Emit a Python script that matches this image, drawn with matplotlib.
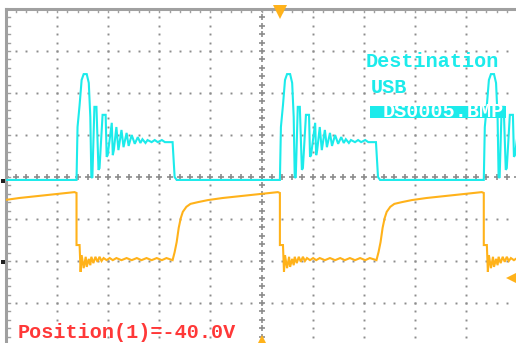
import numpy as np
import matplotlib.pyplot as plt
from matplotlib.patches import Rectangle

# screen is 10 x 8 divisions, all values below are in divisions
edges = [-3.62, 0.36, 4.35]   # ch2 rising edge / ch1 falling edge

# ch2 (cyan) pulse, time measured from its rising edge
ch2_t = [0.00, 0.02, 0.06, 0.10, 0.14, 0.20, 0.24, 0.27, 0.29, 0.31, 0.35, 0.39,
         0.43, 0.45, 0.51, 0.57, 0.59, 0.61, 0.69, 0.71, 0.73, 0.78, 0.82, 0.88,
         0.92, 0.98, 1.02, 1.08, 1.14, 1.20, 1.25, 1.29, 1.35, 1.39, 1.47, 1.53,
         1.59, 1.67, 1.73, 1.88, 1.92, 1.96]
ch2_v = [-0.07, 1.19, 1.71, 2.31, 2.45, 2.45, 2.24, 1.43, 0.00, -0.02, 1.67, 1.67,
         0.17, 0.21, 1.48, 1.48, 0.48, 0.52, 1.29, 0.52, 0.64, 1.19, 0.64, 1.12,
         0.71, 1.05, 0.74, 1.00, 0.79, 0.95, 0.81, 0.90, 0.81, 0.88, 0.83, 0.88,
         0.83, 0.88, 0.83, 0.83, 0.00, -0.07]
ch2_base = -0.07

# ch1 (orange) falling part, time from falling edge
ch1_fall_t = [0.00, 0.00, 0.06, 0.08, 0.10, 0.14, 0.18, 0.20, 0.24, 0.27, 0.29,
              0.33, 0.37, 0.41, 0.45, 0.49, 0.53, 0.59, 0.65, 0.71, 0.78, 0.88,
              0.98, 1.08, 1.18, 1.27, 1.37, 1.47, 1.57, 1.67, 1.76]
ch1_fall_v = [-0.38, -1.62, -1.62, -2.26, -1.86, -2.17, -1.90, -2.14, -1.95, -2.10,
              -1.90, -2.05, -1.90, -2.02, -1.90, -2.00, -1.93, -1.98, -1.93, -1.98,
              -1.93, -1.98, -1.93, -1.98, -1.93, -1.98, -1.93, -1.98, -1.93, -1.98,
              -1.93]
# ch1 rising part, time from rising edge (rise happens 2.10 div before next fall)
ch1_rise_t = [0.00, 0.04, 0.08, 0.12, 0.16, 0.20, 0.27, 0.35, 0.49, 0.69, 0.98,
              1.37, 1.76, 2.06]
ch1_rise_v = [-1.98, -1.79, -1.55, -1.21, -0.98, -0.83, -0.71, -0.64, -0.60,
              -0.55, -0.50, -0.45, -0.40, -0.36]
ch1_high_len = 2.10

CYAN = '#1CEBEB'
ORANGE = '#FFB21A'
GRID = '#8C8C8C'

# build traces
t2, v2 = [-5.5], [ch2_base]
for e in edges:
    t2 += [e + t for t in ch2_t]
    v2 += ch2_v
t1, v1 = [], []
for e in edges:
    t1 += [e - ch1_high_len + t for t in ch1_rise_t]
    v1 += ch1_rise_v
    t1 += [e + t for t in ch1_fall_t]
    v1 += ch1_fall_v

fig = plt.figure(figsize=(5.16, 3.43), dpi=100)
ax = fig.add_axes([6 / 516, -2 / 343, 511 / 516, 336 / 343])
ax.set_xlim(-5, 5)
ax.set_ylim(-4, 4)
ax.axis('off')

# dotted graticule
fine_y = np.arange(-4, 4.01, 0.2)
fine_x = np.arange(-5, 5.01, 0.2)
for gx in range(-4, 5):
    if gx == 0:
        continue
    ax.plot(np.full_like(fine_y, gx), fine_y, ls='none', marker='s', ms=1.4,
            mew=0, color=GRID, zorder=1)
for gy in range(-3, 4):
    if gy == 0:
        continue
    ax.plot(fine_x, np.full_like(fine_x, gy), ls='none', marker='s', ms=1.4,
            mew=0, color=GRID, zorder=1)
# centre axes with crosses
ax.plot(np.zeros_like(fine_y), fine_y, ls='none', marker='+', ms=5, mew=1.2,
        color=GRID, zorder=1)
ax.plot(fine_x, np.zeros_like(fine_x), ls='none', marker='+', ms=5, mew=1.2,
        color=GRID, zorder=1)

# border with ticks (left and top visible)
ax.plot([-5, -5], [-4.2, 4], color='#A0A0A0', lw=2.2, clip_on=False, zorder=2)
ax.plot([-5, 5.2], [4, 4], color='#A0A0A0', lw=2.2, clip_on=False, zorder=2)
for yy in fine_y:
    ax.plot([-5, -4.93], [yy, yy], color='#A0A0A0', lw=1.0, zorder=2)
for xx in fine_x:
    ax.plot([xx, xx], [4, 3.93], color='#A0A0A0', lw=1.0, zorder=2)

# traces
ax.plot(t2, v2, color=CYAN, lw=1.5, zorder=4, solid_joinstyle='miter')
ax.plot(t1, v1, color=ORANGE, lw=1.5, zorder=4, solid_joinstyle='miter')

# markers: trigger position, trigger level, ground refs
ax.plot([0.37], [3.93], marker='v', ms=10, mew=0, color=ORANGE, clip_on=False, zorder=5)
ax.plot([4.93], [-2.40], marker='<', ms=10, mew=0, color=ORANGE, clip_on=False, zorder=5)
ax.plot([0.0], [-3.93], marker='^', ms=10, mew=0, color=ORANGE, clip_on=False, zorder=5)
ax.plot([-5.05, -5.05], [-0.1, -2.02], ls='none', marker='s', ms=3, mew=0,
        color='#222222', clip_on=False, zorder=5)

# on-screen text
font = dict(family='Liberation Mono', fontsize=14.5, fontweight='bold')
ax.text(2.04, 2.76, 'Destination', color=CYAN, va='center', ha='left', zorder=6, **font)
ax.text(2.14, 2.14, 'USB', color=CYAN, va='center', ha='left', zorder=6, **font)
ax.add_patch(Rectangle((2.12, 1.40), 2.66, 0.29, color=CYAN, lw=0, zorder=6))
ax.text(2.37, 1.55, 'DS0005.BMP', color='white', va='center', ha='left', zorder=7, **font)
ax.text(-4.78, -3.71, 'Position(1)=-40.0V', color='#FF3838', va='center', ha='left',
        zorder=6, **font)

fig.savefig('out.png', dpi=100)
